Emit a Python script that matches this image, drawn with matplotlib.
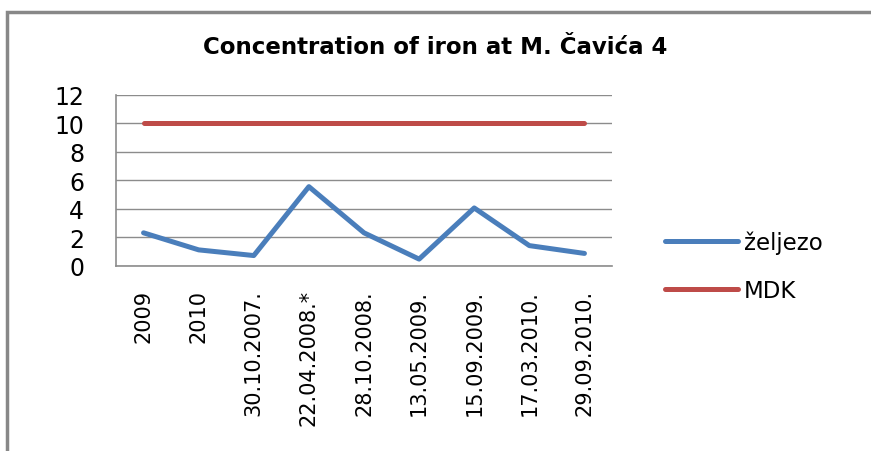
import matplotlib.pyplot as plt
from matplotlib.patches import Rectangle

categories = ['2009', '2010', '30.10.2007.', '22.04.2008.*', '28.10.2008.',
              '13.05.2009.', '15.09.2009.', '17.03.2010.', '29.09.2010.']
zeljezo = [2.3, 1.1, 0.7, 5.55, 2.3, 0.45, 4.05, 1.4, 0.85]
mdk = [10, 10, 10, 10, 10, 10, 10, 10, 10]

fig = plt.figure(figsize=(8.71, 4.52), dpi=100)
ax = fig.add_axes([116 / 871, 1 - 266.5 / 452, 496 / 871, 170.5 / 452])

x = range(len(categories))
ax.plot(x, zeljezo, color='#4A7EBB', linewidth=3.6, solid_capstyle='round', label='željezo')
ax.plot(x, mdk, color='#BE4B48', linewidth=3.6, solid_capstyle='round', label='MDK')

ax.set_xlim(-0.5, len(categories) - 0.5)
ax.set_ylim(0, 12)
ax.set_yticks(range(0, 13, 2))
ax.set_xticks(list(x))
ax.set_xticklabels(categories, rotation=90, fontsize=15, va='top', ha='center')
ax.tick_params(axis='y', labelsize=17, length=0, pad=23)
ax.tick_params(axis='x', length=0, pad=17)
ax.grid(axis='y', color='#8c8c8c', linewidth=1)
ax.set_axisbelow(True)
for s in ['top', 'right']:
    ax.spines[s].set_visible(False)
for s in ['left', 'bottom']:
    ax.spines[s].set_color('#8c8c8c')
    ax.spines[s].set_linewidth(1.2)

fig.text(435 / 871, 1 - 48 / 452, 'Concentration of iron at M. Čavića 4',
         ha='center', va='center', fontsize=16.5, fontweight='bold')

ax.legend(loc='center left', bbox_to_anchor=(644 / 871, 1 - 267 / 452),
          bbox_transform=fig.transFigure, frameon=False, fontsize=16.5,
          handlelength=3.2, handletextpad=0.25, labelspacing=1.1)

fig.add_artist(Rectangle((7 / 871, -0.1), 1.2, 1 - 13 / 452 + 0.1,
                         transform=fig.transFigure, fill=False,
                         edgecolor='#888888', linewidth=2.5))

plt.savefig('out.png', dpi=100)
